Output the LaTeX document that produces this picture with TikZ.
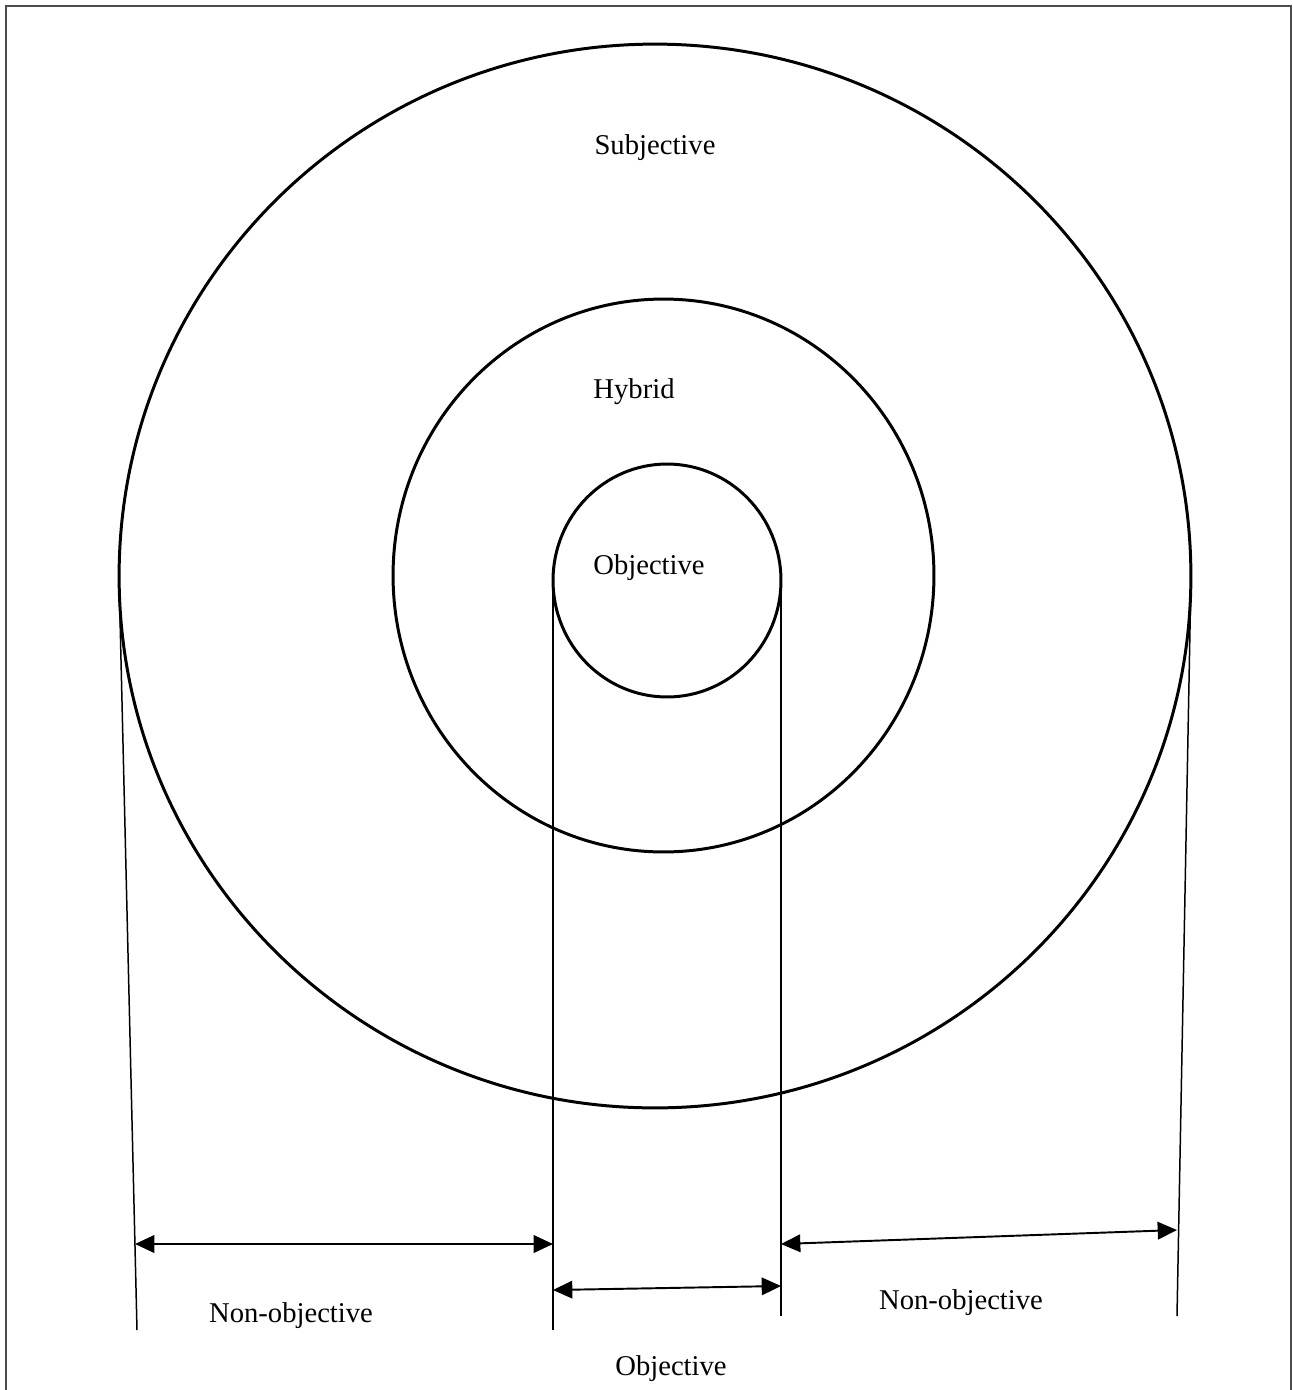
\documentclass[tikz,border=0pt]{standalone}
\usepackage{fontspec}
\setmainfont{Liberation Serif}
\usetikzlibrary{arrows.meta}
\tikzset{
  ring/.style={line width=1.7pt},
  spanarrow/.style={{Triangle[length=11pt,width=10pt]}-{Triangle[length=11pt,width=10pt]}, line width=1.1pt},
  lbl/.style={font=\fontsize{16.3}{20}\selectfont, inner sep=0pt}
}
\begin{document}
\begin{tikzpicture}[x=0.02cm, y=-0.02cm, line width=0.85pt]
  \useasboundingbox (0,0) rectangle (1292,1390);
  \draw[gray!60!black, line width=1.1pt] (6,1390) -- (6,6) -- (1291,6) -- (1291,1390);
  % centres of the three rings
  \coordinate (Cs) at (655,576); \coordinate (Ch) at (663.5,575.5); \coordinate (Co) at (667,580.5);
  \draw[ring] (Cs) ellipse [x radius=10.72cm, y radius=10.64cm];
  \draw[ring] (Ch) ellipse [x radius=5.41cm, y radius=5.53cm];
  \draw[ring] (Co) ellipse [x radius=2.28cm, y radius=2.33cm];
  % guide lines
  \coordinate (L1) at (119,576); \coordinate (L2) at (137,1330);
  \coordinate (M1) at (553,580); \coordinate (M2) at (553,1330);
  \coordinate (N1) at (781,580); \coordinate (N2) at (781,1316);
  \coordinate (R1) at (1191,576); \coordinate (R2) at (1177,1316);
  \draw (L1) -- (L2);
  \draw (M1) -- (M2);
  \draw (N1) -- (N2);
  \draw (R1) -- (R2);
  % spans
  \coordinate (a1) at (135,1244); \coordinate (a2) at (553,1244);
  \coordinate (b1) at (553,1290); \coordinate (b2) at (781,1286);
  \coordinate (c1) at (781,1244); \coordinate (c2) at (1177,1230);
  \draw[spanarrow] (a1) -- (a2);
  \draw[spanarrow] (b1) -- (b2);
  \draw[spanarrow] (c1) -- (c2);
  % labels
  \node[lbl] (subj) at (655,148) {Subjective};
  \node[lbl] (hyb) at (634,392) {Hybrid};
  \node[lbl] (obj) at (649,568) {Objective};
  \node[lbl] (nonl) at (291,1316) {Non-objective};
  \node[lbl] (nonr) at (961,1303) {Non-objective};
  \node[lbl] (objb) at (671,1369) {Objective};
\end{tikzpicture}
\end{document}
